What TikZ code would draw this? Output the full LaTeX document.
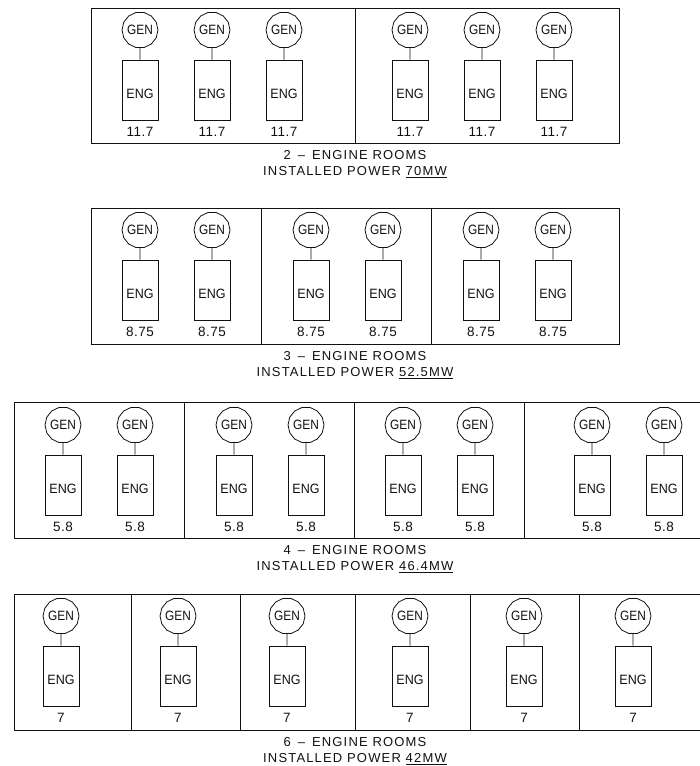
\documentclass[tikz,border=0pt]{standalone}
\usepackage{fontspec}
\setmainfont{Liberation Sans}
\usetikzlibrary{positioning,shapes.geometric}
\definecolor{ink}{HTML}{111111}
\tikzset{
  >=stealth,
  every node/.style={text=ink},
  % --- nodes
  gen/.style     = {regular polygon, regular polygon sides=14, draw=ink, line width=0.8pt,
                    inner sep=-7pt, minimum size=36pt,
                    font=\fontsize{13.5}{14}\addfontfeature{FakeStretch=0.88}\selectfont},
  eng/.style     = {rectangle, draw=ink, line width=0.9pt, inner sep=0pt,
                    minimum width=36pt, minimum height=60pt},
  engtext/.style = {inner sep=0pt, font=\fontsize{13.5}{15}\addfontfeature{FakeStretch=0.93}\selectfont},
  rating/.style  = {inner sep=0pt, font=\fontsize{13.5}{15}\addfontfeature{LetterSpace=4}\selectfont},
  caption/.style = {align=center, inner sep=0pt,
                    font=\fontsize{13}{15.8}\addfontfeature{LetterSpace=9}\selectfont},
  % --- edges
  wall/.style    = {draw=ink, line width=1pt},
  shaft/.style   = {draw=ink, line width=0.9pt},
}
% x list, rating, name prefix, top of the row
\newcommand{\gensets}[4]{%
  \foreach \x [count=\i] in {#1} {
    \node[gen] (#3gen\i) at (\x,#4+22) {GEN};
    \node[eng] (#3eng\i) at (\x,#4+82) {};
    \node[engtext] (#3lab\i) at (\x,#4+86) {ENG};
    \node[rating] (#3val\i) at (\x,#4+124) {#2};
    \draw[shaft] (#3gen\i)--(#3eng\i);
  }
}
\begin{document}
\begin{tikzpicture}[x=1pt,y=-1pt]
  \useasboundingbox (0,0) rectangle (700,766);
  % 2 rooms
  \draw[wall] (91,8) rectangle (619,143);
  \draw[wall] (355,8)--(355,143);
  \gensets{140,212,284,410,482,554}{11.7}{a}{8}
  \node[caption] (capa) at (355,164) {2 \,--\, ENGINE ROOMS\\INSTALLED POWER \underline{70MW}};
  % 3 rooms
  \draw[wall] (91,208) rectangle (619,344);
  \foreach \x in {261,431} \draw[wall] (\x,208)--(\x,344);
  \gensets{140,212,311,383,481,553}{8.75}{b}{208}
  \node[caption] (capb) at (355,365) {3 \,--\, ENGINE ROOMS\\INSTALLED POWER \underline{52.5MW}};
  % 4 rooms
  \draw[wall] (700,402)--(14,402)--(14,538)--(700,538);
  \foreach \x in {184,354,524} \draw[wall] (\x,402)--(\x,538);
  \gensets{63,135,234,306,403,475,592,664}{5.8}{c}{403}
  \node[caption] (capc) at (355,559) {4 \,--\, ENGINE ROOMS\\INSTALLED POWER \underline{46.4MW}};
  % 6 rooms
  \draw[wall] (700,594)--(14,594)--(14,730)--(700,730);
  \foreach \x in {131,240,355,470,579} \draw[wall] (\x,594)--(\x,730);
  \gensets{61,178,287,410,524,633}{7}{d}{594}
  \node[caption] (capd) at (355,751) {6 \,--\, ENGINE ROOMS\\INSTALLED POWER \underline{42MW}};
\end{tikzpicture}
\end{document}
